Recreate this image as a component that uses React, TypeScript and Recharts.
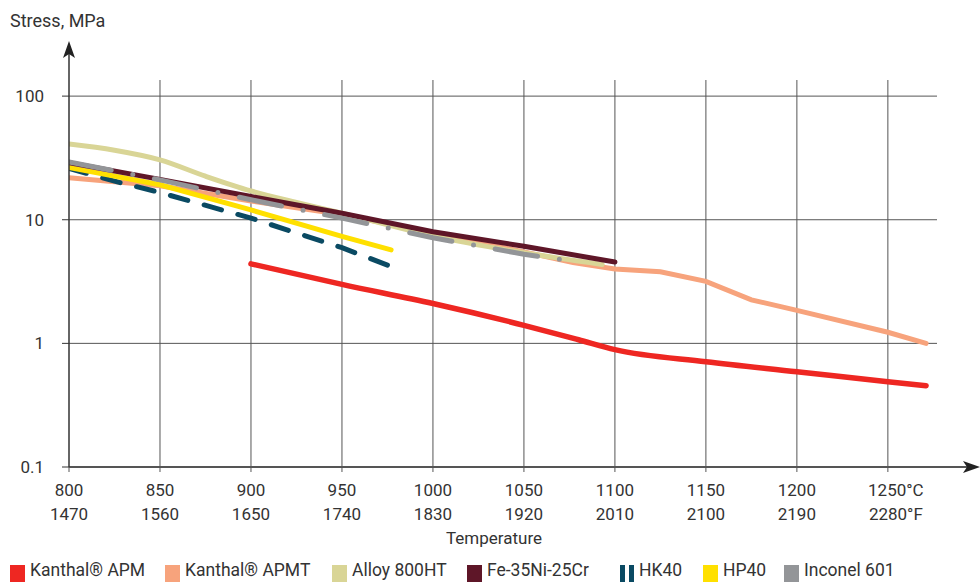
import React from 'react';
import { LineChart, Line, XAxis, YAxis, CartesianGrid, Legend } from 'recharts';

// temperature ticks (°C) and matching °F labels
const tempTicks = [800, 850, 900, 950, 1000, 1050, 1100, 1150, 1200, 1250];
const fahrenheitLabels = ['1470', '1560', '1650', '1740', '1830', '1920', '2010', '2100', '2190', '2280'];
const stressTicks = [0.1, 1, 10, 100];

// Kanthal APM
const apmTemp = [900, 950, 1000, 1050, 1080, 1100, 1150, 1200, 1250, 1271];
const apmStress = [4.4, 3.0, 2.1, 1.4, 1.07, 0.89, 0.71, 0.59, 0.49, 0.455];

// Kanthal APMT
const apmtTemp = [800, 850, 900, 950, 1000, 1050, 1077, 1100, 1125, 1150, 1175, 1200, 1250, 1271];
const apmtStress = [21.9, 18.8, 14.2, 11.0, 7.8, 5.5, 4.5, 4.0, 3.8, 3.17, 2.25, 1.85, 1.23, 1.0];

// Alloy 800HT
const alloyTemp = [800, 825, 850, 875, 900, 925, 950, 1000, 1050, 1093];
const alloyStress = [41, 36.5, 30.5, 22.5, 17.1, 13.8, 11.3, 7.4, 5.4, 4.35];

// Fe-35Ni-25Cr
const feTemp = [800, 850, 900, 950, 1000, 1050, 1100];
const feStress = [28.9, 21.2, 15.4, 11.3, 8.0, 6.1, 4.55];

// HK40
const hkTemp = [800, 825, 850, 900, 950, 977];
const hkStress = [26, 20.5, 16.6, 10.3, 5.94, 4.19];

// HP40
const hpTemp = [800, 850, 900, 950, 977];
const hpStress = [26.5, 19.2, 12.0, 7.33, 5.71];

// Inconel 601
const incTemp = [800, 850, 900, 950, 1000, 1050, 1075];
const incStress = [29.3, 21.0, 14.5, 10.3, 7.15, 5.26, 4.67];

const toPoints = (ts: number[], ss: number[]) => ts.map((t, i) => ({ t, s: ss[i] }));

const seriesNames = ['Kanthal® APM', 'Kanthal® APMT', 'Alloy 800HT', 'Fe-35Ni-25Cr', 'HK40', 'HP40', 'Inconel 601'];
const seriesColors = ['#ee2722', '#f7a37c', '#d9d596', '#5e1628', '#0a4a63', '#ffe000', '#939598'];
const legendLefts = [10, 165, 332, 467, 620, 703, 784];

const FONT = 'Roboto, "DejaVu Sans", sans-serif';
const TEXT = '#333';

const TempTick = (props: any) => {
  const { x, y, payload, index } = props;
  const last = index === tempTicks.length - 1;
  const f = fahrenheitLabels[tempTicks.indexOf(payload.value)];
  const tx = last ? x + 8 : x;
  return (
    <text x={x} y={y} textAnchor="middle" fill={TEXT} fontSize={17} fontFamily={FONT}>
      <tspan x={tx} dy={22}>{payload.value}{last ? '°C' : ''}</tspan>
      <tspan x={tx} dy={24}>{f}{last ? '°F' : ''}</tspan>
    </text>
  );
};

const LegendContent = () => (
  <div style={{ position: 'relative', width: 980, height: 15, fontFamily: FONT, fontSize: 17.5, color: TEXT, whiteSpace: 'nowrap' }}>
    {seriesNames.map((name, i) => (
      <div key={name} style={{ position: 'absolute', left: legendLefts[i], top: 0, height: 15, display: 'flex', alignItems: 'flex-start' }}>
        {name === 'HK40' ? (
          <span style={{ display: 'flex', marginRight: 5, marginTop: 2 }}>
            <span style={{ width: 5, height: 17, background: seriesColors[i], marginRight: 4 }} />
            <span style={{ width: 5, height: 17, background: seriesColors[i] }} />
          </span>
        ) : (
          <span style={{ width: 15, height: 17, background: seriesColors[i], marginRight: 5, marginTop: 2 }} />
        )}
        <span style={{ lineHeight: '15px', height: 15 }}>{name}</span>
      </div>
    ))}
  </div>
);

export default function App() {
  return (
    <div style={{ position: 'absolute', left: 0, top: 0, width: 980, height: 582, background: '#fff', overflow: 'hidden' }}>
      <LineChart width={980} height={582} margin={{ top: 80, right: 43, bottom: 30, left: 9 }}>
        <CartesianGrid stroke="#555" strokeWidth={1} horizontalValues={[1, 10, 100]} verticalValues={tempTicks.slice(1)} />
        <XAxis
          type="number"
          dataKey="t"
          domain={[800, 1277]}
          ticks={tempTicks}
          allowDataOverflow
          height={85}
          tickSize={5}
          tickLine={{ stroke: '#555' }}
          axisLine={{ stroke: '#555', strokeWidth: 2 }}
          tick={<TempTick />}
          label={{ value: 'Temperature', position: 'insideBottom', offset: 8, dx: -9, fill: TEXT, fontSize: 17, fontFamily: FONT }}
        />
        <YAxis
          type="number"
          scale="log"
          domain={[0.1, 135]}
          ticks={stressTicks}
          allowDataOverflow
          width={60}
          tickSize={7}
          tickMargin={18}
          tickLine={{ stroke: '#333' }}
          axisLine={{ stroke: '#333', strokeWidth: 1.5 }}
          tick={{ fill: TEXT, fontSize: 17, fontFamily: FONT }}
          tickFormatter={(v: number) => String(v)}
        />
        <Legend
          layout="horizontal"
          verticalAlign="middle"
          align="center"
          wrapperStyle={{ top: 563, left: 0, width: 980 }}
          content={<LegendContent />}
        />
        <Line data={toPoints(apmtTemp, apmtStress)} dataKey="s" stroke={seriesColors[1]} strokeWidth={5} dot={false} isAnimationActive={false} strokeLinecap="round" />
        <Line data={toPoints(alloyTemp, alloyStress)} dataKey="s" type="monotone" stroke={seriesColors[2]} strokeWidth={5} dot={false} isAnimationActive={false} strokeLinecap="round" />
        <Line data={toPoints(hkTemp, hkStress)} dataKey="s" stroke={seriesColors[4]} strokeWidth={5} strokeDasharray="18 17" strokeLinecap="round" dot={false} isAnimationActive={false} />
        <Line data={toPoints(hpTemp, hpStress)} dataKey="s" stroke={seriesColors[5]} strokeWidth={5} dot={false} isAnimationActive={false} strokeLinecap="round" />
        <Line data={toPoints(feTemp, feStress)} dataKey="s" stroke={seriesColors[3]} strokeWidth={5} dot={false} isAnimationActive={false} strokeLinecap="round" />
        <Line data={toPoints(incTemp, incStress)} dataKey="s" stroke={seriesColors[6]} strokeWidth={5} strokeDasharray="43 22 0 22" strokeLinecap="round" dot={false} isAnimationActive={false} />
        <Line data={toPoints(apmTemp, apmStress)} dataKey="s" type="monotone" stroke={seriesColors[0]} strokeWidth={5.5} dot={false} isAnimationActive={false} strokeLinecap="round" />
      </LineChart>
      <svg width={980} height={582} style={{ position: 'absolute', left: 0, top: 0, pointerEvents: 'none' }}>
        <text x={10} y={27} fill={TEXT} fontSize={18} fontFamily={FONT}>Stress, MPa</text>
        <line x1={69} y1={80} x2={69} y2={52} stroke="#333" strokeWidth={1.5} />
        <path d="M69,41 L75,58 L69,54 L63,58 Z" fill="#222" />
        <line x1={937} y1={467} x2={970} y2={467} stroke="#555" strokeWidth={2} />
        <path d="M980,467 L963,461 L967,467 L963,473 Z" fill="#222" />
      </svg>
    </div>
  );
}
